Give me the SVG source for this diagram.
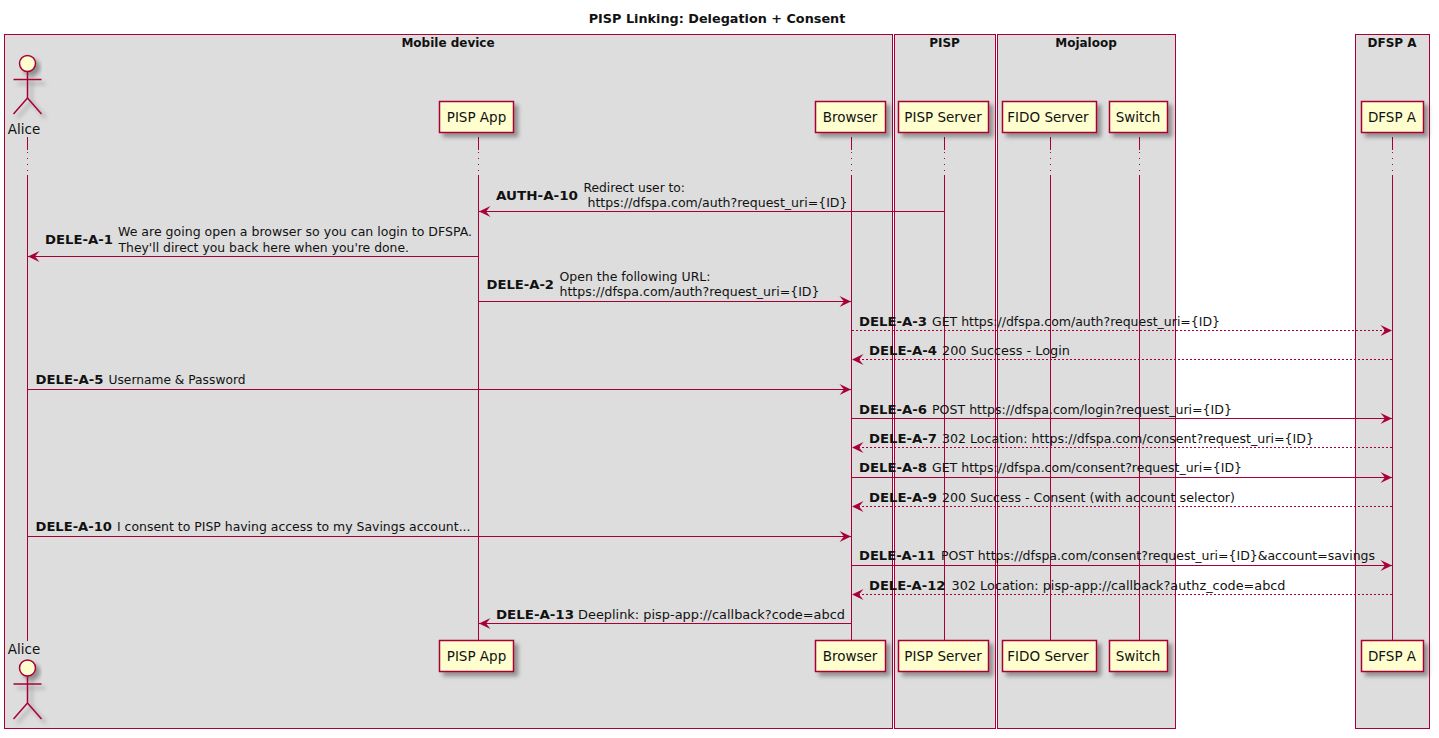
<svg xmlns="http://www.w3.org/2000/svg" width="1439" height="738" viewBox="0 0 1439 738">
<style>
text{font-family:"DejaVu Sans","Liberation Sans",sans-serif;fill:#111;font-size:12.5px}
.b{font-weight:bold;font-size:12.8px}
.ttl{font-weight:bold;font-size:12.8px;text-anchor:middle}
.bt{font-weight:bold;font-size:12px;text-anchor:middle}
.box{fill:#ddd;stroke:#a80036;stroke-width:1}
.life{stroke:#a80036;stroke-width:1;fill:none}
.dot{stroke:#a80036;stroke-width:1;stroke-dasharray:1 5;fill:none}
.p{fill:#fefece;stroke:#a80036;stroke-width:1.5;filter:url(#s)}
.pt{font-size:13.5px;text-anchor:middle}
.am{stroke:#a80036;stroke-width:1;fill:none}
.d{stroke-dasharray:2 2}
.r{marker-end:url(#ah)}
.act{fill:none;stroke:#a80036;stroke-width:1.5;filter:url(#s)}
.hd{fill:#fefece;stroke:#a80036;stroke-width:1.5;filter:url(#s)}
</style>
<defs>
<filter id="s" x="-30%" y="-30%" width="170%" height="170%"><feDropShadow dx="4" dy="4" stdDeviation="2" flood-color="#000" flood-opacity="0.35"/></filter>
<marker id="ah" markerUnits="userSpaceOnUse" markerWidth="14" markerHeight="12" refX="12" refY="5.5" orient="auto"><path d="M12,5.5 L0.5,0 L5,5.5 L0.5,11 Z" fill="#a80036"/></marker>
</defs>
<rect width="1439" height="738" fill="#fff"/>
<text class="ttl" x="717" y="23">PISP Linking: Delegation + Consent</text>
<g id="groups">
<rect class="box" x="4.5" y="34.5" width="888" height="694"/>
<rect class="box" x="894.5" y="34.5" width="101" height="694"/>
<rect class="box" x="997.5" y="34.5" width="178" height="694"/>
<rect class="box" x="1355.5" y="34.5" width="74" height="694"/>
<text class="bt" x="448" y="47">Mobile device</text>
<text class="bt" x="944.5" y="47">PISP</text>
<text class="bt" x="1086" y="47">Mojaloop</text>
<text class="bt" x="1392" y="47">DFSP A</text>
</g>
<g id="lifelines">
<path class="life" d="M27.5,137V150M27.5,175V641"/><path class="dot" d="M27.5,152V175"/>
<path class="life" d="M478.5,137V150M478.5,175V641"/><path class="dot" d="M478.5,152V175"/>
<path class="life" d="M851.5,137V150M851.5,175V641"/><path class="dot" d="M851.5,152V175"/>
<path class="life" d="M944.5,137V150M944.5,175V641"/><path class="dot" d="M944.5,152V175"/>
<path class="life" d="M1050.5,137V150M1050.5,175V641"/><path class="dot" d="M1050.5,152V175"/>
<path class="life" d="M1139.5,137V150M1139.5,175V641"/><path class="dot" d="M1139.5,152V175"/>
<path class="life" d="M1392.5,137V150M1392.5,175V641"/><path class="dot" d="M1392.5,152V175"/>
</g>
<g id="connectors">
<path class="am r" d="M944,211.5H479"/>
<path class="am r" d="M478,256.5H28"/>
<path class="am r" d="M478,301.5H851"/>
<path class="am r d" d="M852,330.5H1392"/>
<path class="am r d" d="M1392,359.5H852"/>
<path class="am r" d="M28,389.5H851"/>
<path class="am r" d="M852,418.5H1392"/>
<path class="am r d" d="M1392,447.5H852"/>
<path class="am r" d="M852,477.5H1392"/>
<path class="am r d" d="M1392,506.5H852"/>
<path class="am r" d="M28,536.5H851"/>
<path class="am r" d="M852,565.5H1392"/>
<path class="am r d" d="M1392,594.5H852"/>
<path class="am r" d="M851,623.5H479"/>
</g>
<g id="labels">
<text class="b" x="496" y="200" textLength="82" lengthAdjust="spacingAndGlyphs">AUTH-A-10</text>
<text x="583.5" y="192" textLength="101.5" lengthAdjust="spacingAndGlyphs">Redirect user to:</text>
<text x="587.5" y="207" textLength="260" lengthAdjust="spacingAndGlyphs">https://dfspa.com/auth?request_uri={ID}</text>
<text class="b" x="45" y="244" textLength="68" lengthAdjust="spacingAndGlyphs">DELE-A-1</text>
<text x="118" y="236" textLength="354" lengthAdjust="spacingAndGlyphs">We are going open a browser so you can login to DFSPA.</text>
<text x="118.5" y="252" textLength="290.5" lengthAdjust="spacingAndGlyphs">They'll direct you back here when you're done.</text>
<text class="b" x="486.5" y="289" textLength="67.5" lengthAdjust="spacingAndGlyphs">DELE-A-2</text>
<text x="559.5" y="281" textLength="151" lengthAdjust="spacingAndGlyphs">Open the following URL:</text>
<text x="559.5" y="296" textLength="260" lengthAdjust="spacingAndGlyphs">https://dfspa.com/auth?request_uri={ID}</text>
<text y="326"><tspan class="b" x="859" textLength="68" lengthAdjust="spacingAndGlyphs">DELE-A-3</tspan> <tspan x="932" textLength="288" lengthAdjust="spacingAndGlyphs">GET https://dfspa.com/auth?request_uri={ID}</tspan></text>
<text y="355"><tspan class="b" x="869" textLength="68" lengthAdjust="spacingAndGlyphs">DELE-A-4</tspan> <tspan x="942" textLength="128" lengthAdjust="spacingAndGlyphs">200 Success - Login</tspan></text>
<text y="384"><tspan class="b" x="35.5" textLength="68" lengthAdjust="spacingAndGlyphs">DELE-A-5</tspan> <tspan x="108.5" textLength="137" lengthAdjust="spacingAndGlyphs">Username &amp; Password</tspan></text>
<text y="414"><tspan class="b" x="859" textLength="68" lengthAdjust="spacingAndGlyphs">DELE-A-6</tspan> <tspan x="932" textLength="300" lengthAdjust="spacingAndGlyphs">POST https://dfspa.com/login?request_uri={ID}</tspan></text>
<text y="443"><tspan class="b" x="869" textLength="68" lengthAdjust="spacingAndGlyphs">DELE-A-7</tspan> <tspan x="942" textLength="372" lengthAdjust="spacingAndGlyphs">302 Location: https://dfspa.com/consent?request_uri={ID}</tspan></text>
<text y="472"><tspan class="b" x="859" textLength="68" lengthAdjust="spacingAndGlyphs">DELE-A-8</tspan> <tspan x="932" textLength="310" lengthAdjust="spacingAndGlyphs">GET https://dfspa.com/consent?request_uri={ID}</tspan></text>
<text y="502"><tspan class="b" x="869" textLength="68" lengthAdjust="spacingAndGlyphs">DELE-A-9</tspan> <tspan x="942" textLength="293" lengthAdjust="spacingAndGlyphs">200 Success - Consent (with account selector)</tspan></text>
<text y="531"><tspan class="b" x="35.5" textLength="76.5" lengthAdjust="spacingAndGlyphs">DELE-A-10</tspan> <tspan x="117" textLength="353.5" lengthAdjust="spacingAndGlyphs">I consent to PISP having access to my Savings account...</tspan></text>
<text y="560"><tspan class="b" x="859" textLength="76.5" lengthAdjust="spacingAndGlyphs">DELE-A-11</tspan> <tspan x="941" textLength="434" lengthAdjust="spacingAndGlyphs">POST https://dfspa.com/consent?request_uri={ID}&amp;account=savings</tspan></text>
<text y="590"><tspan class="b" x="869" textLength="76.5" lengthAdjust="spacingAndGlyphs">DELE-A-12</tspan> <tspan x="951.5" textLength="334" lengthAdjust="spacingAndGlyphs">302 Location: pisp-app://callback?authz_code=abcd</tspan></text>
<text y="619"><tspan class="b" x="496" textLength="78" lengthAdjust="spacingAndGlyphs">DELE-A-13</tspan> <tspan x="578" textLength="267" lengthAdjust="spacingAndGlyphs">Deeplink: pisp-app://callback?code=abcd</tspan></text>
</g>
<g id="alice-top"><circle class="hd" cx="27.5" cy="63.5" r="8"/><path class="act" d="M27.5,71.5V98M13.5,79.5H41.5M27.5,98L13.5,114M27.5,98L41.5,114"/><text class="pt" x="24" y="134">Alice</text></g>
<g id="alice-bottom"><text class="pt" x="24" y="654">Alice</text><circle class="hd" cx="27.5" cy="668" r="8"/><path class="act" d="M27.5,676V703M13.5,684H41.5M27.5,703L13.5,719M27.5,703L41.5,719"/></g>
<g id="pisp-app-top"><rect class="p" x="439.5" y="101.5" width="74" height="31"/><text class="pt" x="476.5" y="122">PISP App</text></g>
<g id="browser-top"><rect class="p" x="815.5" y="101.5" width="70" height="31"/><text class="pt" x="850" y="122">Browser</text></g>
<g id="pisp-server-top"><rect class="p" x="898.5" y="101.5" width="90" height="31"/><text class="pt" x="943" y="122">PISP Server</text></g>
<g id="fido-top"><rect class="p" x="1002.5" y="101.5" width="94" height="31"/><text class="pt" x="1048" y="122">FIDO Server</text></g>
<g id="switch-top"><rect class="p" x="1109.5" y="101.5" width="58" height="31"/><text class="pt" x="1138" y="122">Switch</text></g>
<g id="dfsp-top"><rect class="p" x="1361.5" y="101.5" width="62" height="31"/><text class="pt" x="1392" y="122">DFSP A</text></g>
<g id="pisp-app-bottom"><rect class="p" x="439.5" y="640.5" width="74" height="31"/><text class="pt" x="476.5" y="661">PISP App</text></g>
<g id="browser-bottom"><rect class="p" x="815.5" y="640.5" width="70" height="31"/><text class="pt" x="850" y="661">Browser</text></g>
<g id="pisp-server-bottom"><rect class="p" x="898.5" y="640.5" width="90" height="31"/><text class="pt" x="943" y="661">PISP Server</text></g>
<g id="fido-bottom"><rect class="p" x="1002.5" y="640.5" width="94" height="31"/><text class="pt" x="1048" y="661">FIDO Server</text></g>
<g id="switch-bottom"><rect class="p" x="1109.5" y="640.5" width="58" height="31"/><text class="pt" x="1138" y="661">Switch</text></g>
<g id="dfsp-bottom"><rect class="p" x="1361.5" y="640.5" width="62" height="31"/><text class="pt" x="1392" y="661">DFSP A</text></g>
</svg>
